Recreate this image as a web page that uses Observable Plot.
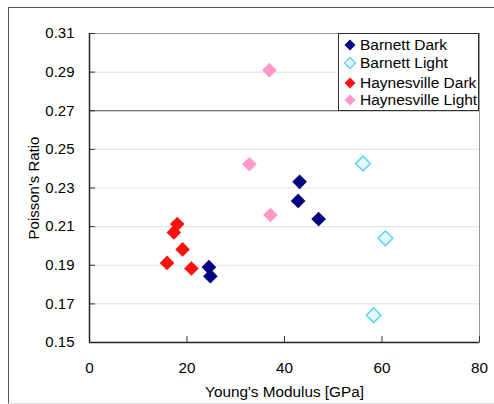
<!DOCTYPE html>
<html>
<head>
<meta charset="utf-8">
<script src="https://cdn.jsdelivr.net/npm/d3@7"></script>
<script src="https://cdn.jsdelivr.net/npm/@observablehq/plot@0.6"></script>
<style>
  html, body { margin: 0; padding: 0; background: #fff; }
  #wrap { position: relative; width: 494px; height: 404px; overflow: hidden;
          font-family: "Liberation Sans", Arial, sans-serif; }
  #frame { position: absolute; left: 8px; top: 7px; right: -4px; bottom: 0px;
           border-left: 1.5px solid #555; border-top: 1.5px solid #555;
           border-bottom: 1px solid #ddd; pointer-events: none; }
  #legend { position: absolute; left: 338px; top: 33px; width: 139px; height: 76px;
            border: 1.3px solid #333; background: #fff; }
  .row { position: absolute; left: 0; height: 18px; display: flex; align-items: center;
         font-size: 15.5px; color: #000; white-space: nowrap; }
  .row svg { margin-left: 5px; margin-right: 4px; }
</style>
</head>
<body>
<div id="wrap"></div>
<script>
const series = ["Barnett Dark", "Barnett Light", "Haynesville Dark", "Haynesville Light"];
const fills = ["#000080", "#e8f9ff", "#ff1010", "#ff99cc"];
const strokes = ["#000080", "#5fd6f5", "#ff1010", "#ff99cc"];

const barnettDarkX = [24.5, 24.8, 43.1, 42.8, 47.0];
const barnettDarkY = [0.189, 0.1843, 0.2332, 0.2233, 0.2139];
const barnettLightX = [56.1, 60.7, 58.3];
const barnettLightY = [0.2427, 0.204, 0.1641];
const haynesDarkX = [18.0, 17.3, 19.1, 15.9, 20.9];
const haynesDarkY = [0.2113, 0.207, 0.1982, 0.1912, 0.1883];
const haynesLightX = [36.9, 32.8, 37.1];
const haynesLightY = [0.291, 0.2423, 0.216];

const xTicks = [0, 20, 40, 60, 80];
const yTicks = [0.15, 0.17, 0.19, 0.21, 0.23, 0.25, 0.27, 0.29, 0.31];
const gridY = [0.17, 0.19, 0.21, 0.23, 0.25, 0.29];
const darkY = [0.27];

const seriesXY = [
  [barnettDarkX, barnettDarkY],
  [barnettLightX, barnettLightY],
  [haynesDarkX, haynesDarkY],
  [haynesLightX, haynesLightY]
];
const data = [];
seriesXY.forEach(([xs, ys], i) => xs.forEach((x, j) => data.push({series: series[i], x, y: ys[j]})));

const pxPerX = 390 / 80;
const pxPerY = 309 / 0.16;
const tickLen = 6;

const chart = Plot.plot({
  width: 494,
  height: 404,
  marginLeft: 89,
  marginRight: 15,
  marginTop: 33,
  marginBottom: 62,
  style: {fontFamily: "'Liberation Sans', Arial, sans-serif", fontSize: "15px", color: "#000", background: "transparent"},
  x: {domain: [0, 80], ticks: xTicks},
  y: {domain: [0.15, 0.31], ticks: yTicks},
  color: {domain: series, range: fills},
  marks: [
    Plot.ruleY(gridY, {stroke: "#e4e4e4", strokeWidth: 1.2}),
    Plot.ruleY(darkY, {stroke: "#444", strokeWidth: 1.2}),
    Plot.frame({stroke: "#999", strokeWidth: 1}),
    Plot.ruleY(yTicks, {x1: 0, x2: tickLen / pxPerX, stroke: "#333", strokeWidth: 1}),
    Plot.ruleX(xTicks, {y1: 0.15, y2: 0.15 + tickLen / pxPerY, stroke: "#333", strokeWidth: 1}),
    Plot.ruleX([0], {stroke: "#222", strokeWidth: 1.5}),
    Plot.ruleY([0.15], {stroke: "#222", strokeWidth: 1.5}),
    Plot.axisY({ticks: yTicks, tickSize: 0, tickPadding: 15, tickFormat: d3.format(".2f"),
      label: "Poisson's Ratio", labelAnchor: "center", labelArrow: "none", labelOffset: 61, fontSize: 15}),
    Plot.axisX({ticks: xTicks, tickSize: 0, tickPadding: 20, tickFormat: d => String(d),
      label: "Young's Modulus [GPa]", labelAnchor: "center", labelArrow: "none", labelOffset: 54, fontSize: 15.3}),
    Plot.dot(data, {x: "x", y: "y", symbol: "diamond2", r: 6.6,
      fill: d => fills[series.indexOf(d.series)],
      stroke: d => strokes[series.indexOf(d.series)],
      strokeWidth: d => d.series === "Barnett Light" ? 1.6 : 0})
  ]
});

const wrap = document.getElementById("wrap");
wrap.appendChild(chart);
const frame = document.createElement("div");
frame.id = "frame";
wrap.appendChild(frame);

const legend = document.createElement("div");
legend.id = "legend";
const rowTops = [2, 20, 40, 57];
series.forEach((s, i) => {
  const row = document.createElement("div");
  row.className = "row";
  row.style.top = rowTops[i] + "px";
  const sw = i === 1 ? 1.4 : 0;
  row.innerHTML = `<svg width="12" height="12" viewBox="-6 -6 12 12"><path d="M0,-5.5L5.5,0L0,5.5L-5.5,0Z" fill="${fills[i]}" stroke="${strokes[i]}" stroke-width="${sw}"/></svg><span>${s}</span>`;
  legend.appendChild(row);
});
wrap.appendChild(legend);
</script>
</body>
</html>
